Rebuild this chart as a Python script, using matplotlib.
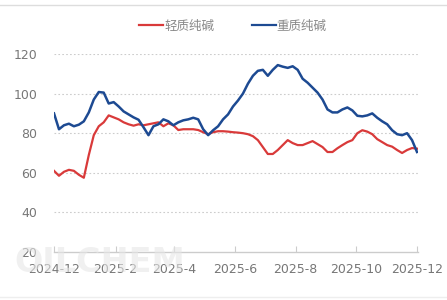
import matplotlib
matplotlib.use("Agg")
import matplotlib.pyplot as plt
import matplotlib.dates as mdates
from matplotlib.lines import Line2D
import pandas as pd

plt.rcParams["font.family"] = ["Noto Sans CJK SC", "DejaVu Sans"]

# sampled every 5 days, 2024-12-01 .. 2025-12-01
dates = pd.date_range("2024-12-01", periods=74, freq="5D")

light_soda = [
    61, 58.5, 60.5, 61.5, 61, 59, 57.5, 69, 79, 83.5,
    85.5, 89, 88, 87, 85.5, 84.5, 83.8, 84.5, 84, 84.5,
    85, 85.5, 83.5, 85, 84, 81.6, 82, 82, 82, 81.6,
    80.5, 79.5, 80.5, 81, 81, 80.8, 80.5, 80.3, 80, 79.5,
    78.5, 76.5, 73, 69.5, 69.5, 71.5, 74, 76.5, 75, 74,
    74, 75, 76, 74.5, 73, 70.5, 70.5, 72.4, 74, 75.5,
    76.5, 80, 81.5, 80.8, 79.5, 77, 75.5, 74, 73.2, 71.5,
    70, 71.5, 72.5, 72.2,
]
dense_soda = [
    90, 82, 84, 84.8, 83.5, 84.3, 86, 90.5, 97, 100.8,
    100.5, 95, 95.7, 93.5, 91, 89.5, 88, 86.8, 83, 79,
    83.5, 84.5, 87, 86, 84, 85.5, 86.5, 87, 87.8, 87,
    82, 79, 81.5, 83.5, 87, 89.5, 93.5, 96.5, 100, 105,
    109, 111.5, 112, 109, 112, 114.4, 113.6, 113, 113.8, 112,
    107.5, 105.5, 103, 100.5, 97, 92, 90.5, 90.5, 92, 93,
    91.5, 88.8, 88.5, 89, 90, 87.8, 86, 84.5, 81.5, 79.5,
    79, 80, 76.5, 70.5,
]
series_names = ["轻质纯碱", "重质纯碱"]
colors = ["#d93a3a", "#1d4a92"]

W, H = 447, 300
fig = plt.figure(figsize=(W / 100, H / 100), dpi=100)
ax = fig.add_axes([54 / W, (H - 252) / H, (418 - 54) / W, (252 - 54) / H])

# very faint watermark behind the axis labels
fig.text(100 / W, 1 - 262 / H, "OILCHEM", fontsize=24, fontweight="bold",
         color="#e6e6e6", alpha=0.6, ha="center", va="center",
         family="DejaVu Sans", zorder=0)

ax.plot(dates, light_soda, color=colors[0], lw=1.6, zorder=3)
ax.plot(dates, dense_soda, color=colors[1], lw=1.8, zorder=3)

ax.set_ylim(20, 120)
ax.set_yticks([20, 40, 60, 80, 100, 120])
ax.set_xlim(pd.Timestamp("2024-12-01"), pd.Timestamp("2025-12-02"))
ax.xaxis.set_major_locator(mdates.MonthLocator(bymonth=[2, 4, 6, 8, 10, 12]))
ax.xaxis.set_major_formatter(mdates.DateFormatter("%Y-%-m"))

for y in [40, 60, 80, 100, 120]:
    ax.axhline(y, color="#cccccc", lw=0.8, ls=(0, (1.5, 2)), zorder=1)

for s in ["top", "right", "left"]:
    ax.spines[s].set_visible(False)
ax.spines["bottom"].set_color("#cccccc")
ax.spines["bottom"].set_linewidth(1.0)
ax.tick_params(axis="x", direction="in", length=4, color="#cccccc",
               labelcolor="#777777", labelsize=9, pad=8)
ax.tick_params(axis="y", length=0, labelcolor="#777777", labelsize=9, pad=12)
for lab in ax.get_xticklabels() + ax.get_yticklabels():
    lab.set_family("DejaVu Sans")

handles = [Line2D([0], [0], color=c, lw=1.6) for c in colors]
fig.legend(handles, series_names, loc="center", bbox_to_anchor=(233 / W, 1 - 26 / H),
           ncol=2, frameon=False, fontsize=9, handlelength=1.9, handletextpad=0.1,
           columnspacing=3.0, labelcolor="#888888")

# thin frame lines at top and bottom of the image
fig.add_artist(Line2D([0, 1], [1 - 5 / H, 1 - 5 / H], color="#dddddd", lw=1))
fig.add_artist(Line2D([0, 1], [3 / H, 3 / H], color="#eeeeee", lw=1))

fig.savefig("out.png", dpi=100)
